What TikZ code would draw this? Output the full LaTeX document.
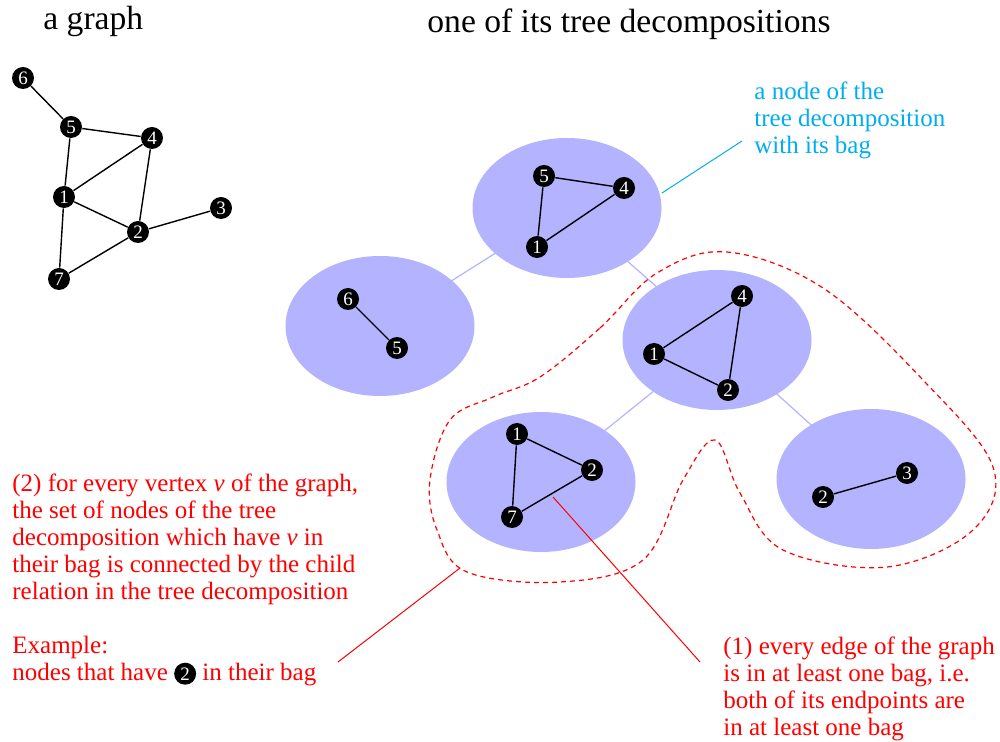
\documentclass[tikz,border=0pt]{standalone}
\usepackage{fontspec}
\setmainfont{Liberation Serif}
\usetikzlibrary{shapes.geometric,backgrounds}
\definecolor{bagblue}{RGB}{179,179,255}
\definecolor{labelcyan}{RGB}{0,174,239}
\begin{document}
\begin{tikzpicture}[x=0.5pt,y=-0.5pt,
  vert/.style={circle,fill=black,text=white,minimum size=11pt,inner sep=0pt,font=\fontsize{9.5}{9.5}\selectfont},
  gedge/.style={line width=0.7pt},
  bag/.style={ellipse,fill=bagblue,minimum width=94.5pt,minimum height=70pt,inner sep=0pt},
  tedge/.style={draw=bagblue,line width=0.6pt},
  note/.style={align=left,anchor=north west,inner sep=0pt,font=\fontsize{12.5}{13.5}\selectfont},
  titletext/.style={anchor=base west,inner sep=0pt,font=\fontsize{16.8}{18}\selectfont},
  pointer/.style={line width=0.5pt},
]
\useasboundingbox (0,0) rectangle (1000,742);

% titles
\node[titletext] (t1) at (43,30) {a graph};
\node[titletext] (t2) at (427,33) {one of its tree decompositions};

% the graph
\node[vert] (g6) at (23,78) {6};
\node[vert] (g5) at (71,127) {5};
\node[vert] (g4) at (152,138) {4};
\node[vert] (g1) at (64,197) {1};
\node[vert] (g3) at (221,208) {3};
\node[vert] (g2) at (138,232) {2};
\node[vert] (g7) at (59,279) {7};
\draw[gedge] (g6) -- (g5) (g5) -- (g4) (g5) -- (g1) (g1) -- (g4)
  (g4) -- (g2) (g1) -- (g2) (g2) -- (g3) (g1) -- (g7) (g7) -- (g2);

% bags
\node[bag] (b1) at (567,208) {};
\node[bag] (b2) at (380,326) {};
\node[bag] (b3) at (717,340) {};
\node[bag] (b4) at (541,482) {};
\node[bag] (b5) at (871,479) {};
\begin{scope}[on background layer]
  \draw[tedge] (b1.center) -- (b2.center) (b1.center) -- (b3.center)
    (b3.center) -- (b4.center) (b3.center) -- (b5.center);
\end{scope}

% bag contents
\node[vert] (a5) at (544,176) {5};
\node[vert] (a4) at (624,188) {4};
\node[vert] (a1) at (537,247) {1};
\draw[gedge] (a5) -- (a4) (a5) -- (a1) (a1) -- (a4);

\node[vert] (c6) at (348,299) {6};
\node[vert] (c5) at (397,348) {5};
\draw[gedge] (c6) -- (c5);

\node[vert] (d4) at (742,296) {4};
\node[vert] (d1) at (654,354) {1};
\node[vert] (d2) at (728,390) {2};
\draw[gedge] (d4) -- (d1) (d1) -- (d2) (d2) -- (d4);

\node[vert] (e1) at (517,434) {1};
\node[vert] (e2) at (592,470) {2};
\node[vert] (e7) at (512,517) {7};
\draw[gedge] (e1) -- (e2) (e1) -- (e7) (e7) -- (e2);

\node[vert] (f2) at (823,497) {2};
\node[vert] (f3) at (907,473) {3};
\draw[gedge] (f2) -- (f3);

% dashed region
\draw[red,line width=0.6pt,dash pattern=on 2.5pt off 2pt]
  plot[smooth cycle,tension=0.6] coordinates {
    (540,377) (600,328) (657,273) (727,252) (823,288) (923,380) (993,467)
    (973,530) (887,567) (783,550) (740,493) (715,440) (683,480) (643,560)
    (560,582) (467,572) (437,530) (430,480) (450,420) (493,397)};

% cyan note
\node[note,text=labelcyan] (n0) at (754,82) {a node of the\\tree decomposition\\with its bag};
\coordinate (cy1) at (662,193);
\coordinate (cy2) at (742,141);
\draw[labelcyan,pointer] (cy1) -- (cy2);

% note (2)
\node[note,text=red] (n2) at (12,473) {(2) for every vertex \textit{v} of the graph,\\the set of nodes of the tree\\decomposition which have \textit{v} in\\their bag is connected by the child\\relation in the tree decomposition\\[13.5pt]Example:\\nodes that have \tikz[baseline=(ic.base)]\node[vert] (ic) {2}; in their bag};
\coordinate (r2a) at (338,662);
\coordinate (r2b) at (460,568);
\draw[red,pointer] (r2a) -- (r2b);

% note (1)
\node[note,text=red] (n1) at (723,636) {(1) every edge of the graph\\is in at least one bag, i.e.\\both of its endpoints are\\in at least one bag};
\coordinate (r1a) at (553,497);
\coordinate (r1b) at (700,662);
\draw[red,pointer] (r1a) -- (r1b);
\end{tikzpicture}
\end{document}
